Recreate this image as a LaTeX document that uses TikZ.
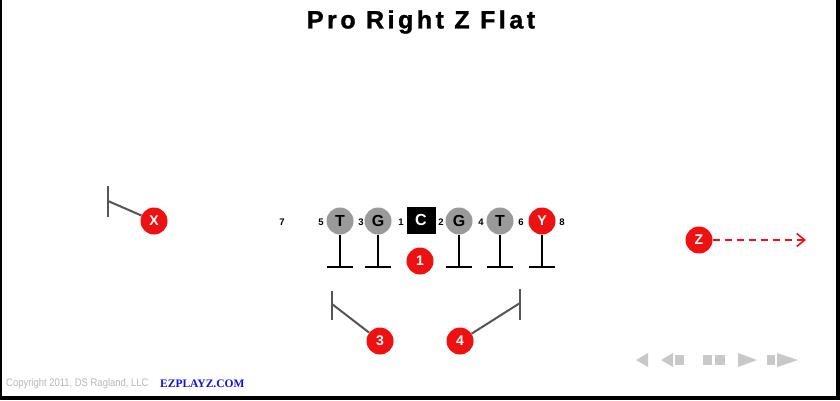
\documentclass[tikz,border=0pt]{standalone}
\usepackage{fontspec}
\setmainfont{Liberation Sans}
\newfontfamily\titlefont[LetterSpace=14,FakeBold=1.2]{Liberation Sans}
\newfontfamily\serifb{Liberation Serif}
\usetikzlibrary{arrows.meta}
\definecolor{pred}{HTML}{EE1111}
\definecolor{pgray}{HTML}{9A9A9A}
\definecolor{rgray}{HTML}{555555}
\definecolor{cgray}{HTML}{C8C8C8}
\definecolor{lgray}{HTML}{B8B8B8}
\definecolor{ezblue}{HTML}{1010E0}
\tikzset{
  player/.style={circle, minimum size=27pt, inner sep=0pt, font=\fontsize{16}{16}\selectfont\bfseries},
  redp/.style={player, fill=pred, text=white, font=\fontsize{14}{14}\selectfont\bfseries},
  grayp/.style={player, fill=pgray, text=black},
  center/.style={rectangle, fill=black, text=white, minimum width=29pt, minimum height=27pt, inner sep=0pt, font=\fontsize{16}{16}\selectfont\bfseries},
  gapnum/.style={font=\fontsize{9.5}{9.5}\selectfont\bfseries, inner sep=0pt},
  block/.style={line width=2.6pt, black},
  route/.style={line width=2pt, rgray},
  ctrl/.style={fill=cgray, draw=none}
}
\begin{document}
\begin{tikzpicture}[x=1pt,y=-1pt]
\useasboundingbox (0,0) rectangle (840,400);
\fill[black] (0,0) rectangle (840,400);
\fill[white] (2,0) rectangle (836,396);
% title
\node (title) at (421,22) {\titlefont\fontsize{25}{25}\selectfont\bfseries Pro Right Z Flat};
% line
\node[grayp] (t1) at (340,221) {T};
\node[grayp] (g1) at (378,221) {G};
\node[center] (c) at (421,220) {C};
\node[grayp] (g2) at (459,221) {G};
\node[grayp] (t2) at (500,221) {T};
\node[redp] (y) at (542,221) {Y};
% gap numbers
\node[gapnum] (n7) at (282,222) {7};
\node[gapnum] (n5) at (321,222) {5};
\node[gapnum] (n3) at (361,222) {3};
\node[gapnum] (n1) at (401,222) {1};
\node[gapnum] (n2) at (441,222) {2};
\node[gapnum] (n4) at (481,222) {4};
\node[gapnum] (n6) at (521,222) {6};
\node[gapnum] (n8) at (562,222) {8};
% blocks
\foreach \p/\x in {t1/340,g1/378,g2/459,t2/500,y/542}{
  \coordinate (\p b) at (\x,267);
  \coordinate (\p l) at (\x-13,267);
  \coordinate (\p r) at (\x+13,267);
  \draw[block] (\p) -- (\p b);
  \draw[block] (\p l) -- (\p r);
}
% backs and receivers
\node[redp] (qb) at (420,261) {1};
\node[redp] (x) at (154,221) {X};
\node[redp] (rb3) at (380,341) {3};
\node[redp] (rb4) at (460,341) {4};
\node[redp] (z) at (699,240) {Z};
% X route
\coordinate (xr) at (108,201);
\coordinate (xt) at (108,186);
\coordinate (xbt) at (108,217);
\draw[route] (x) -- (xr);
\draw[route] (xt) -- (xbt);
% 3 route
\coordinate (r3) at (332,304);
\coordinate (r3t) at (332,291);
\coordinate (r3b) at (332,320);
\draw[route] (rb3) -- (r3);
\draw[route] (r3t) -- (r3b);
% 4 route
\coordinate (r4) at (520,303);
\coordinate (r4t) at (520,289);
\coordinate (r4b) at (520,320);
\draw[route] (rb4) -- (r4);
\draw[route] (r4t) -- (r4b);
% Z route
\coordinate (zend) at (806,240);
\draw[pred, line width=1.6pt, dash pattern=on 7pt off 5pt, -{Straight Barb[length=8pt,width=13pt,line width=1.6pt]}] (z) -- (zend);
% copyright
\node[anchor=west, inner sep=0pt, text=lgray] (copy) at (6,384) {\fontsize{11}{11}\selectfont\addfontfeature{FakeStretch=0.86}Copyright 2011, DS Ragland, LLC};
\node[anchor=west, inner sep=0pt, text=ezblue] (ez) at (160,384) {\serifb\fontsize{11.5}{11.5}\selectfont\bfseries EZPLAYZ.COM};
% controls
\fill[ctrl] (636,360) -- (648,353) -- (648,367) -- cycle;
\fill[ctrl] (661,360) -- (673,353) -- (673,367) -- cycle;
\fill[ctrl] (675,355) rectangle (684,365);
\fill[ctrl] (703,355) rectangle (712,365);
\fill[ctrl] (715,355) rectangle (725,365);
\fill[ctrl] (738,353) -- (738,367) -- (757,360) -- cycle;
\fill[ctrl] (767,355) rectangle (775,365);
\fill[ctrl] (777,353) -- (777,367) -- (798,360) -- cycle;
\end{tikzpicture}
\end{document}
